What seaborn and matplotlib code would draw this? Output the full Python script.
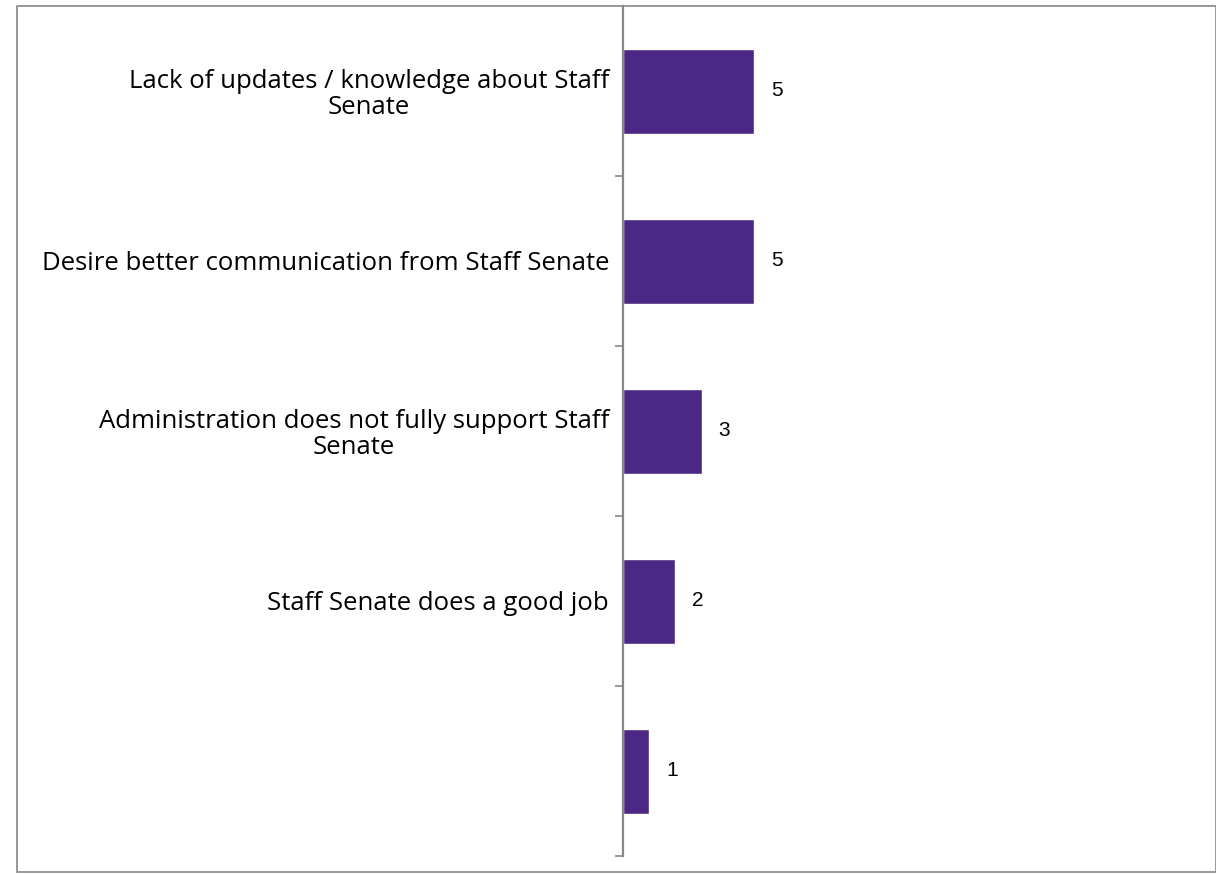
import matplotlib
matplotlib.use("Agg")
import matplotlib.pyplot as plt
import seaborn as sns
import pandas as pd
from matplotlib.patches import Rectangle

categories = [
    "Lack of updates / knowledge about Staff\nSenate",
    "Desire better communication from Staff Senate",
    "Administration does not fully support Staff\nSenate",
    "Staff Senate does a good job",
    "",
]
counts = [5, 5, 3, 2, 1]

df = pd.DataFrame({"reason": range(len(categories)), "count": counts})

sns.set_theme(style="white")
plt.rcParams["font.family"] = ["Open Sans", "DejaVu Sans"]

fig = plt.figure(figsize=(12.16, 8.74), dpi=100)
W, H = 1216, 874
ax = fig.add_axes([623 / W, 1 - 856 / H, (W - 623) / W, 850 / H])

sns.barplot(data=df, x="count", y="reason", orient="h", color="#4B2885",
            saturation=1, width=0.5, ax=ax)

for c in ax.containers:
    ax.bar_label(c, labels=[str(v) for v in counts], padding=12,
                 fontsize=15, family="Liberation Sans", color="black")

ax.set_xlim(0, 22.6)
ax.set_ylim(4.5, -0.5)
ax.set_xlabel("")
ax.set_ylabel("")
ax.set_xticks([])
ax.set_yticks(range(len(categories)))
ax.set_yticklabels(categories, fontsize=18.5, multialignment="center",
                   color="black", linespacing=1.05)
ax.tick_params(axis="y", which="major", length=0, pad=10)
ax.set_yticks([i + 0.5 for i in range(len(categories))], minor=True)
ax.tick_params(axis="y", which="minor", length=6, width=1.2, color="#888888", left=True)

for s in ["top", "right", "bottom"]:
    ax.spines[s].set_visible(False)
ax.spines["left"].set_color("#888888")
ax.spines["left"].set_linewidth(1.6)

fig.patches.append(Rectangle((17 / W, 2 / H), (W - 17) / W, (872 - 6) / H,
                             transform=fig.transFigure, fill=False,
                             edgecolor="#888888", linewidth=1.2))

fig.savefig("out.png", dpi=100, facecolor="white")
